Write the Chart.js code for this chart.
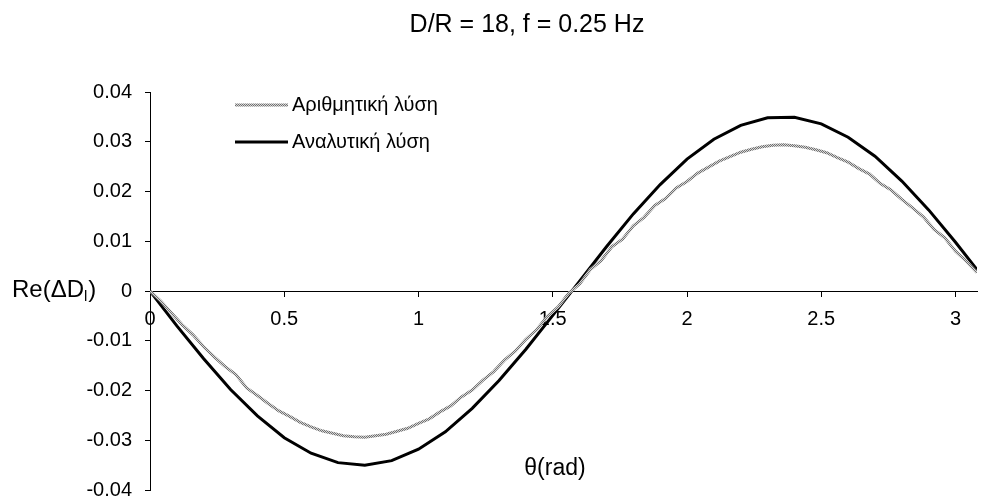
<!DOCTYPE html>
<html>
<head>
<meta charset="utf-8">
<script src="https://cdn.jsdelivr.net/npm/chart.js"></script>
<style>
  body { margin: 0; background: #fff; }
  #wrap { width: 984px; height: 498px; }
</style>
</head>
<body>
<div id="wrap"><canvas id="plot" width="984" height="498"></canvas></div>
<script>
var chartTitle = "D/R = 18, f = 0.25 Hz";
var xTitle = "θ(rad)";
var seriesNames = ["Αριθμητική λύση", "Αναλυτική λύση"];

// numerical solution
var thetaNum = [0, 0.04, 0.08, 0.12, 0.16, 0.2, 0.24, 0.28, 0.32, 0.36, 0.4, 0.44, 0.48, 0.52, 0.56, 0.6,
  0.64, 0.68, 0.72, 0.76, 0.8, 0.84, 0.88, 0.92, 0.96, 1, 1.04, 1.08, 1.12, 1.16, 1.2, 1.24, 1.28, 1.32,
  1.36, 1.4, 1.44, 1.48, 1.52, 1.56, 1.6, 1.64, 1.68, 1.72, 1.76, 1.8, 1.84, 1.88, 1.92, 1.96, 2, 2.04,
  2.08, 2.12, 2.16, 2.2, 2.24, 2.28, 2.32, 2.36, 2.4, 2.44, 2.48, 2.52, 2.56, 2.6, 2.64, 2.68, 2.72,
  2.76, 2.8, 2.84, 2.88, 2.92, 2.96, 3, 3.04, 3.08];
var reNum = [0, -0.0020, -0.0044, -0.0068, -0.0088, -0.0112, -0.0133, -0.0152, -0.0168, -0.0195, -0.0210,
  -0.0226, -0.0241, -0.0252, -0.0264, -0.0273, -0.0281, -0.0286, -0.0291, -0.0293, -0.0294, -0.0291,
  -0.0288, -0.0282, -0.0276, -0.0266, -0.0257, -0.0243, -0.0231, -0.0213, -0.0199, -0.0179, -0.0162,
  -0.0139, -0.0121, -0.0097, -0.0078, -0.0051, -0.0032, -0.0004, 0.0014, 0.0043, 0.0061, 0.0089, 0.0104,
  0.0131, 0.0148, 0.0172, 0.0186, 0.0207, 0.0220, 0.0237, 0.0249, 0.0261, 0.0270, 0.0279, 0.0285, 0.0290,
  0.0293, 0.0294, 0.0292, 0.0289, 0.0284, 0.0278, 0.0268, 0.0259, 0.0246, 0.0235, 0.0216, 0.0203, 0.0184,
  0.0167, 0.0149, 0.0124, 0.0107, 0.0080, 0.0060, 0.0037];

// analytical solution
var thetaAn = [0, 0.1, 0.2, 0.3, 0.4, 0.5, 0.6, 0.7, 0.8, 0.9, 1, 1.1, 1.2, 1.3, 1.4, 1.5, 1.6, 1.7, 1.8,
  1.9, 2, 2.1, 2.2, 2.3, 2.4, 2.5, 2.6, 2.7, 2.8, 2.9, 3, 3.08];
var reAn = [0, -0.0070, -0.0136, -0.0198, -0.0251, -0.0295, -0.0326, -0.0345, -0.0350, -0.0341, -0.0318,
  -0.0283, -0.0236, -0.0180, -0.0117, -0.0049, 0.0020, 0.0089, 0.0155, 0.0214, 0.0265, 0.0305, 0.0333,
  0.0348, 0.0349, 0.0336, 0.0309, 0.0271, 0.0221, 0.0163, 0.0098, 0.0043];

var yTicks = [-0.04, -0.03, -0.02, -0.01, 0, 0.01, 0.02, 0.03, 0.04];
var xTicks = [0, 0.5, 1, 1.5, 2, 2.5, 3];

var FONT = '"Liberation Sans", Arial, sans-serif';

function pairs(xs, ys) {
  return xs.map(function (x, i) { return { x: x, y: ys[i] }; });
}

// grey hatched stroke for the numerical curve
var pc = document.createElement("canvas");
pc.width = 2; pc.height = 2;
var pctx = pc.getContext("2d");
pctx.fillStyle = "#d6d6d6"; pctx.fillRect(0, 0, 2, 2);
pctx.fillStyle = "#707070"; pctx.fillRect(0, 0, 1, 1); pctx.fillRect(1, 1, 1, 1);
var hatch = pctx.createPattern(pc, "repeat");

var texts = {
  id: "texts",
  afterDraw: function (chart) {
    var c = chart.ctx;
    c.save();
    c.fillStyle = "#000";
    c.textBaseline = "middle";

    c.font = "25px " + FONT;
    c.textAlign = "center";
    c.fillText(chartTitle, 527, 25);

    c.font = "23px " + FONT;
    c.fillText(xTitle, 555, 469);

    c.textAlign = "left";
    var x = 12;
    c.font = "24px " + FONT;
    c.fillText("Re(ΔD", x, 290);
    x += c.measureText("Re(ΔD").width;
    c.font = "15px " + FONT;
    c.fillText("l", x, 297);
    x += c.measureText("l").width + 1;
    c.font = "24px " + FONT;
    c.fillText(")", x, 290);

    // legend
    var ds = chart.data.datasets;
    var rows = [105, 142];
    c.font = "20px " + FONT;
    for (var i = 0; i < ds.length; i++) {
      c.beginPath();
      c.strokeStyle = ds[i].borderColor;
      c.lineWidth = ds[i].borderWidth;
      c.moveTo(235, rows[i]);
      c.lineTo(288, rows[i]);
      c.stroke();
      c.fillText(ds[i].label, 292, rows[i]);
    }
    c.restore();
  }
};

new Chart(document.getElementById("plot"), {
  type: "line",
  data: {
    datasets: [{
      label: seriesNames[0],
      data: pairs(thetaNum, reNum),
      borderColor: hatch,
      borderWidth: 3,
      pointRadius: 0,
      tension: 0
    }, {
      label: seriesNames[1],
      data: pairs(thetaAn, reAn),
      borderColor: "#000",
      borderWidth: 3,
      pointRadius: 0,
      tension: 0
    }]
  },
  options: {
    responsive: false,
    animation: false,
    events: [],
    layout: { padding: { top: 92, bottom: 8, left: 0, right: 7 } },
    plugins: { legend: { display: false }, title: { display: false }, tooltip: { enabled: false } },
    scales: {
      x: {
        type: "linear",
        position: { y: 0 },
        min: 0,
        max: 3.08,
        grid: { drawOnChartArea: false, color: "#000", tickLength: 5 },
        border: { color: "#000", width: 1 },
        afterBuildTicks: function (s) { s.ticks = xTicks.map(function (v) { return { value: v }; }); },
        afterFit: function (s) { s.paddingLeft = 0; s.paddingRight = 0; },
        ticks: {
          color: "#000",
          font: { family: FONT, size: 20 },
          padding: 11,
          maxRotation: 0,
          autoSkip: false,
          callback: function (v) { return String(Math.round(v * 10) / 10); }
        }
      },
      y: {
        type: "linear",
        min: -0.04,
        max: 0.04,
        grid: { drawOnChartArea: false, color: "#000", tickLength: 5 },
        border: { color: "#000", width: 1 },
        afterBuildTicks: function (s) { s.ticks = yTicks.map(function (v) { return { value: v }; }); },
        afterFit: function (s) { s.width = 150; s.paddingTop = 0; s.paddingBottom = 0; },
        ticks: {
          color: "#000",
          font: { family: FONT, size: 20 },
          padding: 13,
          autoSkip: false,
          callback: function (v) { return Math.abs(v) < 1e-9 ? "0" : v.toFixed(2); }
        }
      }
    }
  },
  plugins: [texts]
});
</script>
</body>
</html>
